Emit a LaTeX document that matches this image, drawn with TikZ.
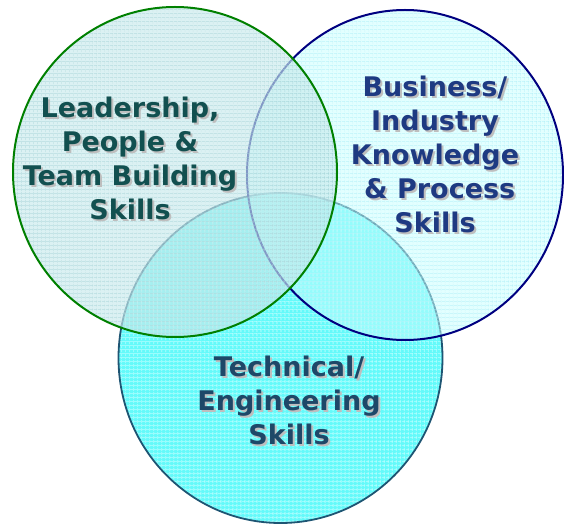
\documentclass[tikz,border=0pt]{standalone}
\usepackage{fontspec}
\setmainfont{DejaVu Sans}
\usepackage{xcolor}
\usetikzlibrary{patterns.meta}

\definecolor{techfill}{RGB}{100,250,250}
\definecolor{techgrid}{RGB}{180,255,255}
\definecolor{techline}{RGB}{30,85,115}
\definecolor{bizfill}{RGB}{197,255,255}
\definecolor{bizgrid}{RGB}{160,235,245}
\definecolor{bizline}{RGB}{0,0,128}
\definecolor{leadfill}{RGB}{200,234,236}
\definecolor{leadgrid}{RGB}{155,205,210}
\definecolor{leadline}{RGB}{0,128,0}
\definecolor{leadtext}{RGB}{18,80,80}
\definecolor{biztext}{RGB}{30,58,130}
\definecolor{techtext}{RGB}{30,72,104}
\definecolor{shadowgray}{RGB}{190,190,190}

\tikzset{
  skill/.style={font=\bfseries\fontsize{27}{34}\selectfont, align=center},
  gridh/.style={pattern={Lines[angle=0,distance=4pt,line width=0.5pt]}, pattern color=#1},
  gridv/.style={pattern={Lines[angle=90,distance=4pt,line width=0.5pt]}, pattern color=#1},
}

% one line of text with its grey shadow behind it
\newcommand{\sh}[1]{\rlap{\hspace{2pt}\raisebox{-2pt}{\textcolor{shadowgray}{#1}}}#1}

\begin{document}
\begin{tikzpicture}[x=1pt, y=-1pt]
\useasboundingbox (0,0) rectangle (564,529);

% Circles
\fill[techfill] (280.5,358) ellipse [x radius=162, y radius=165];
\fill[gridh=techgrid] (280.5,358) ellipse [x radius=162, y radius=165];
\fill[gridv=techgrid] (280.5,358) ellipse [x radius=162, y radius=165];
\draw[techline, line width=1.8pt] (280.5,358) ellipse [x radius=162, y radius=165];

\fill[bizfill, fill opacity=0.5] (405,175) ellipse [x radius=158, y radius=165];
\fill[gridh=bizgrid, fill opacity=0.6] (405,175) ellipse [x radius=158, y radius=165];
\fill[gridv=bizgrid, fill opacity=0.6] (405,175) ellipse [x radius=158, y radius=165];
\draw[bizline, line width=2pt] (405,175) ellipse [x radius=158, y radius=165];

\fill[leadfill, fill opacity=0.65] (175,172) ellipse [x radius=162, y radius=165];
\fill[gridh=leadgrid, fill opacity=0.6] (175,172) ellipse [x radius=162, y radius=165];
\fill[gridv=leadgrid, fill opacity=0.6] (175,172) ellipse [x radius=162, y radius=165];
\draw[leadline, line width=2pt] (175,172) ellipse [x radius=162, y radius=165];

% Labels
\node[skill, text=leadtext] at (130,159) (lead)
  {\sh{Leadership,}\\\sh{People \&}\\\sh{Team Building}\\\sh{Skills}};
\node[skill, text=biztext] at (435,155) (biz)
  {\sh{Business/}\\\sh{Industry}\\\sh{Knowledge}\\\sh{\ \& Process}\\\sh{Skills}};
\node[skill, text=techtext] at (289,401) (tech)
  {\sh{Technical/}\\\sh{Engineering}\\\sh{Skills}};

\end{tikzpicture}
\end{document}
